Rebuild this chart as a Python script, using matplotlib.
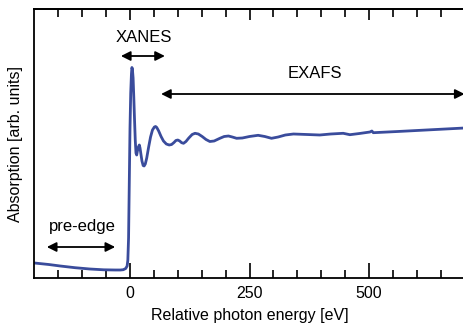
import matplotlib.pyplot as plt
import numpy as np

plt.rcParams['font.family'] = ['Liberation Sans', 'DejaVu Sans']

# Spectrum (energy relative to the edge, absorption in arb. units)
energy = [-200, -170, -146, -115, -84, -55, -31, -20, -14, -9, -6, -4.5, -3, -1.5,
          0, 1.5, 3, 4, 5, 6.5, 8, 9.5, 11, 12.5, 14, 15.5, 17.5, 19.5, 21, 22.5,
          25, 27.5, 29.5, 32, 35, 39, 43, 47, 51, 53.5, 56, 60, 65, 70, 76, 82,
          87, 92, 96, 100, 104, 108, 112, 117, 123, 130, 136, 143, 151, 159, 167,
          176, 188, 197, 206, 214, 223, 235, 250, 268, 282, 296, 310, 325, 342,
          370, 397, 420, 446, 460, 480, 502, 506, 509, 560, 620, 700]
absorption = [15, 13.5, 12, 10.3, 9, 8.2, 8, 8, 8.3, 9.5, 12, 18, 40, 95,
              150, 185, 204, 210.5, 209, 200, 180, 158, 138, 125, 123, 127, 131,
              133, 130, 125, 117, 112.5, 112, 114, 120, 131, 141, 148, 151, 151.5,
              150.5, 147, 141.5, 137, 134, 133, 133.5, 135.5, 137.5, 138, 137,
              135.3, 134.7, 136.5, 140, 143.5, 144.7, 144, 141.5, 138.5, 136.5,
              137, 139.7, 141.5, 142, 141, 139.7, 140, 141.5, 142.7, 141.5, 139.7,
              141, 143, 144, 143.5, 143, 144, 144.7, 143.3, 144.5, 146, 147,
              145.3, 146.5, 148, 150]

# Region markers: (start, end, height, label, label x, label y)
regions = [
    (-19, 73, 222, 'XANES', 29, 240),
    (65, 700, 184, 'EXAFS', 387, 204),
    (-174, -31, 31, 'pre-edge', -100, 51),
]

fig = plt.figure(figsize=(4.63, 3.32), dpi=100)
ax = fig.add_axes([34.4 / 463, 1 - 278 / 332, 430.2 / 463, 269 / 332])

ax.plot(energy, absorption, color='#3a4c9c', lw=2.0, solid_joinstyle='round',
        solid_capstyle='round')

for x0, x1, y, label, tx, ty in regions:
    ax.annotate('', xy=(x1, y), xytext=(x0, y),
                arrowprops=dict(arrowstyle='<|-|>', color='black', lw=1.3,
                                mutation_scale=14, shrinkA=0, shrinkB=0))
    ax.text(tx, ty, label, ha='center', va='center', fontsize=12)

ax.set_xlim(-200, 700)
ax.set_ylim(0, 269)
ax.set_xticks([0, 250, 500])
ax.set_xticks(np.arange(-150, 700, 50), minor=True)
ax.set_yticks([])
ax.tick_params(axis='x', which='major', direction='in', length=11, width=1.2,
               labelsize=11.5, pad=6)
ax.tick_params(axis='x', which='minor', direction='in', length=6, width=1.2)

top = ax.secondary_xaxis('top')
top.set_xticks([0, 250, 500])
top.set_xticks(np.arange(-150, 700, 50), minor=True)
top.tick_params(which='major', direction='in', length=8, width=1.2, labeltop=False)
top.tick_params(which='minor', direction='in', length=6, width=1.2)
top.spines['top'].set_linewidth(1.3)

for s in ax.spines.values():
    s.set_linewidth(1.3)

ax.set_xlabel('Relative photon energy [eV]', fontsize=11.5, labelpad=5)
ax.set_ylabel('Absorption [arb. units]', fontsize=11.5, labelpad=8)

fig.savefig('out.png', dpi=100)
